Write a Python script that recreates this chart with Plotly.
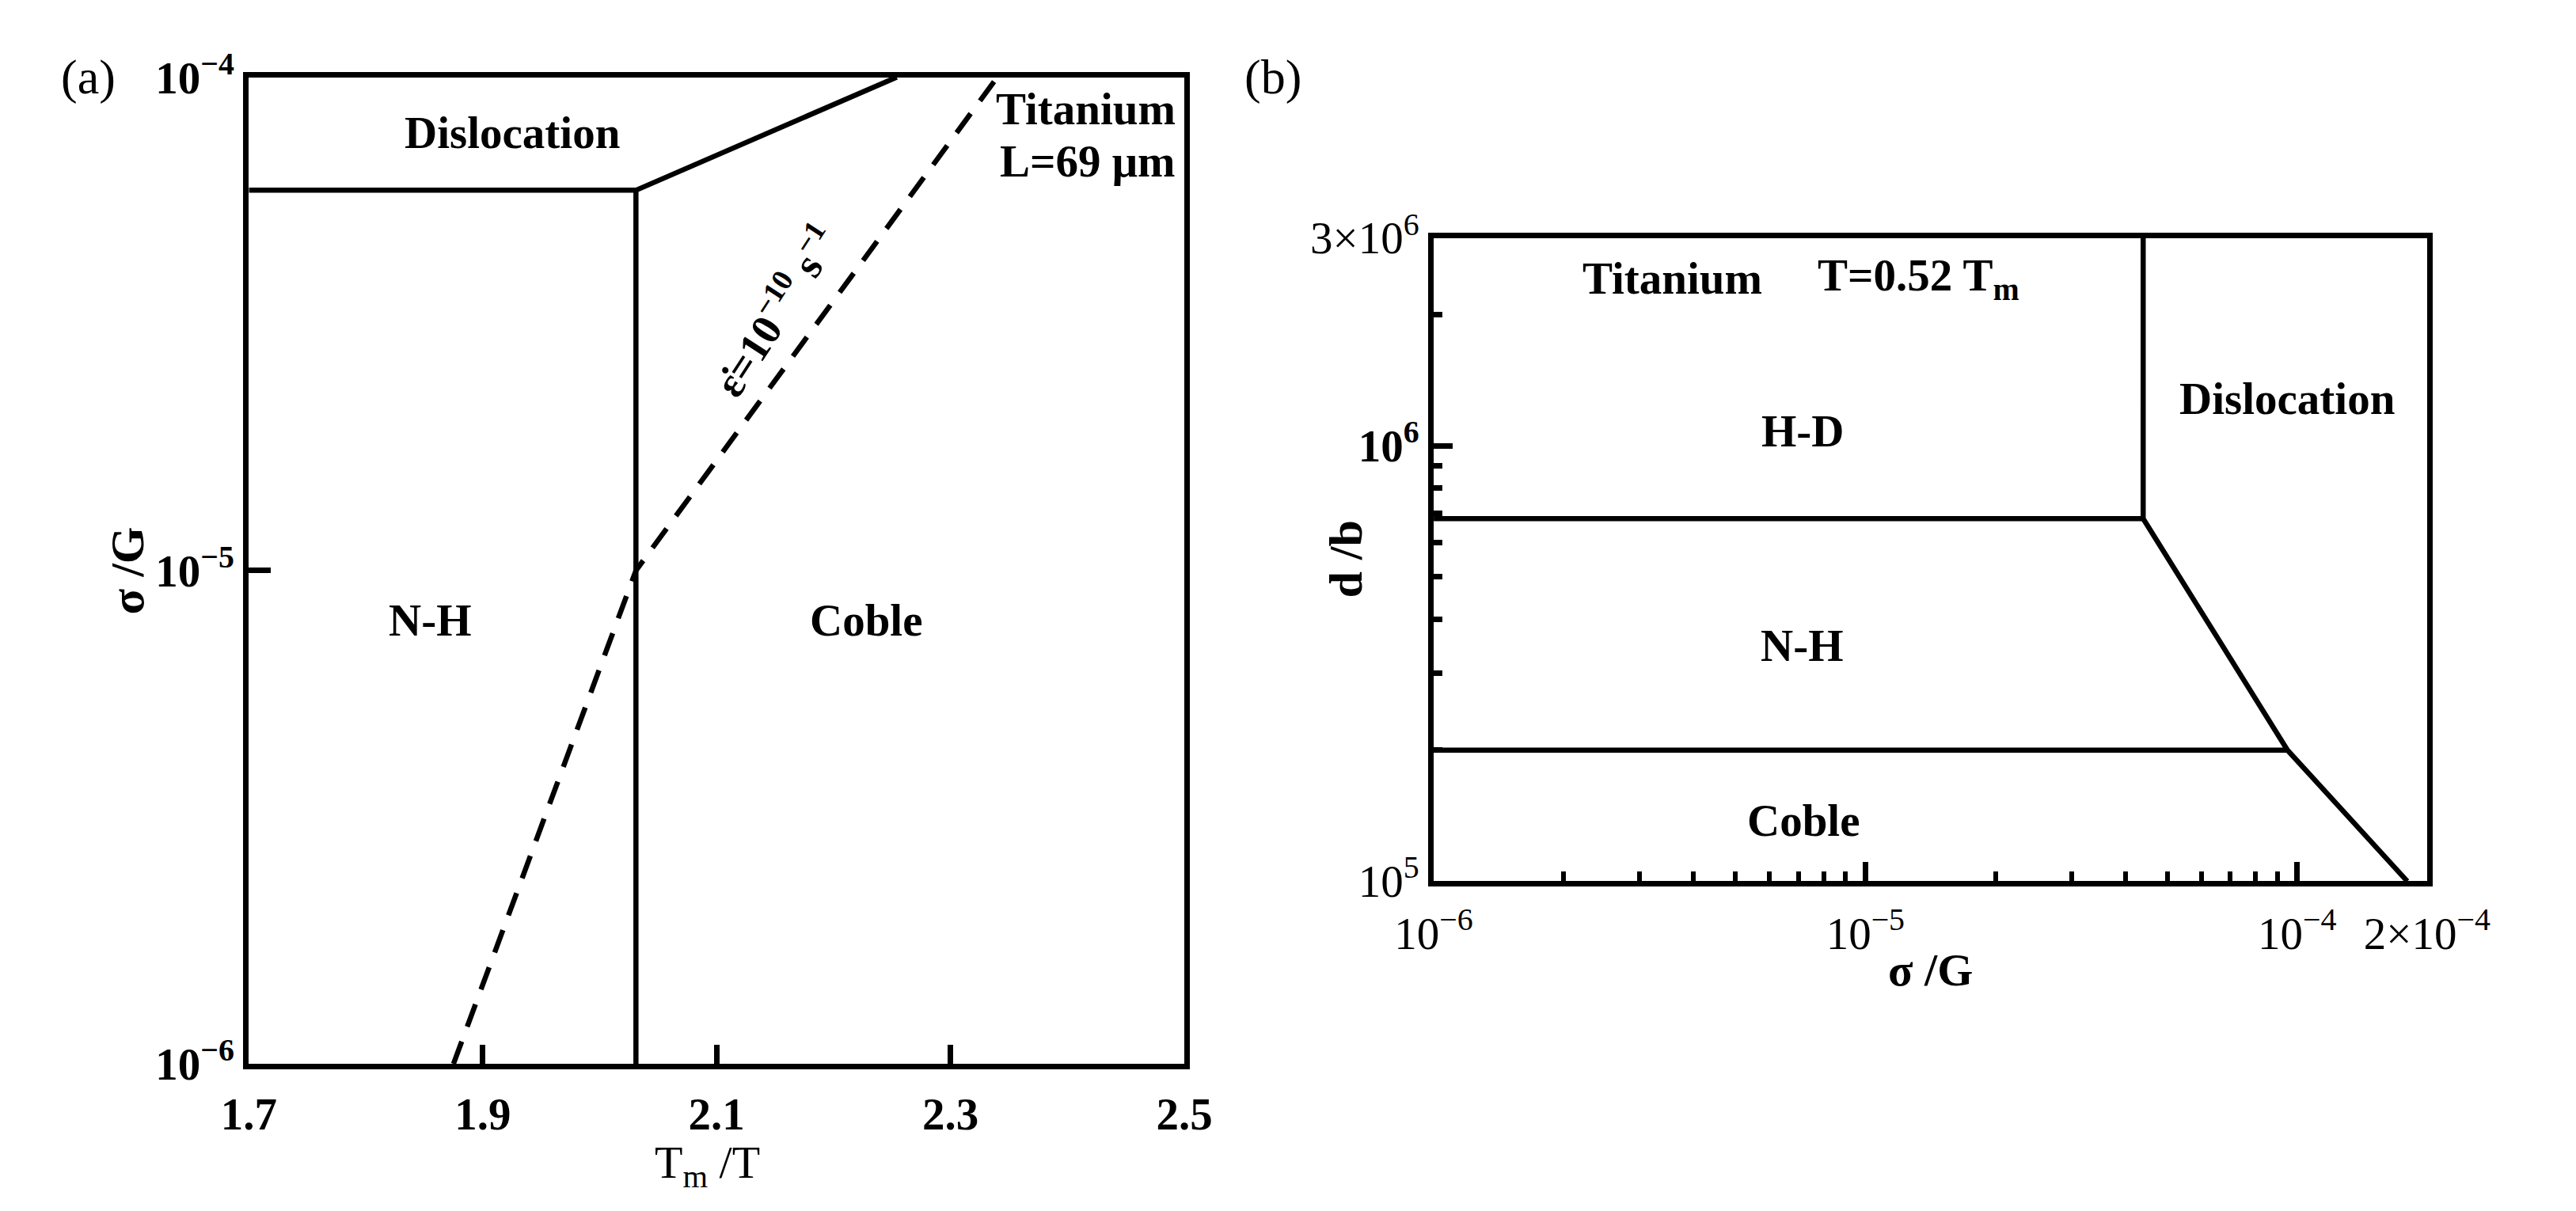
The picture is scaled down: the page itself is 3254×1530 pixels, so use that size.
import numpy as np
import plotly.graph_objects as go

W, H = 3254, 1530
FONT = "Liberation Serif"

# ---------------- panel (a) data ----------------
a_xticks = [1.7, 1.9, 2.1, 2.3, 2.5]
a_xticktext = ["1.7", "1.9", "2.1", "2.3", "2.5"]
a_yticks = [1e-6, 1e-5, 1e-4]
a_yticktext = ["10<sup>−6</sup>", "10<sup>−5</sup>", "10<sup>−4</sup>"]

a_disl_x = [1.7, 2.031, 2.254]          # dislocation boundary
a_disl_y = [5.9e-5, 5.9e-5, 1e-4]
a_vert_x = [2.031, 2.031]               # N-H / Coble boundary
a_vert_y = [1e-6, 5.9e-5]
a_rate_x = [1.875, 2.031, 2.340]        # strain-rate contour (dashed)
a_rate_y = [1e-6, 1e-5, 1e-4]

# ---------------- panel (b) data ----------------
b_xticks = [1e-6, 1e-5, 1e-4, 2e-4]
b_xticktext = ["10<sup>−6</sup>", "10<sup>−5</sup>", "10<sup>−4</sup>", "2×10<sup>−4</sup>"]
b_yticks = [1e5, 1e6, 3e6]
b_yticktext = ["10<sup>5</sup>", "<b>10<sup>6</sup></b>", "3×10<sup>6</sup>"]
b_xminor = [k * 10.0 ** e for e in (-6, -5) for k in range(2, 10)]
b_yminor = [k * 10.0 ** 5 for k in range(2, 10)] + [2e6]

b_hd_x = [1e-6, 4.4e-5]                 # H-D / N-H boundary
b_hd_y = [6.8e5, 6.8e5]
b_disl_x = [4.4e-5, 4.4e-5, 9.5e-5, 1.8e-4]   # dislocation boundary
b_disl_y = [3e6, 6.8e5, 2.0e5, 1e5]
b_cob_x = [1e-6, 9.5e-5]                # N-H / Coble boundary
b_cob_y = [2.0e5, 2.0e5]

fig = go.Figure()

def line(x, y, xa, ya, dash=None, width=6.5):
    fig.add_trace(go.Scatter(x=x, y=y, mode="lines", xaxis=xa, yaxis=ya,
                             line=dict(color="black", width=width, dash=dash),
                             showlegend=False, hoverinfo="skip"))

line(a_disl_x, a_disl_y, "x", "y")
line(a_vert_x, a_vert_y, "x", "y")
line(a_rate_x, a_rate_y, "x", "y", dash="30px,20px")
line(b_hd_x, b_hd_y, "x2", "y2")
line(b_disl_x, b_disl_y, "x2", "y2")
line(b_cob_x, b_cob_y, "x2", "y2")

axcommon = dict(showline=True, linewidth=7, linecolor="black", mirror=True,
                showgrid=False, zeroline=False, ticks="inside",
                tickcolor="black", tickwidth=7,
                tickfont=dict(family=FONT, size=57, color="black"))

fig.update_layout(
    width=W, height=H, margin=dict(l=0, r=0, t=0, b=0),
    paper_bgcolor="white", plot_bgcolor="white",
    font=dict(family=FONT, color="black", size=57),
    xaxis=dict(domain=[267 / W, 1498 / W], range=[1.7, 2.5], anchor="y",
               tickmode="array", tickvals=a_xticks,
               ticktext=["<b>%s</b>" % t for t in a_xticktext],
               ticklen=24, ticklabelstandoff=8, **axcommon),
    yaxis=dict(domain=[1 - 1360 / H, 1 - 52 / H], type="log", range=[-6, -4],
               anchor="x", tickmode="array", tickvals=a_yticks,
               ticktext=["<b>%s</b>" % t for t in a_yticktext],
               ticklen=28, **axcommon),
    xaxis2=dict(domain=[1826 / W, 3133 / W], type="log",
                range=[-6, np.log10(2e-4)], anchor="y2",
                tickmode="array", tickvals=b_xticks, ticktext=b_xticktext,
                ticklen=24, ticklabelstandoff=10,
                minor=dict(tickmode="array", tickvals=b_xminor, ticks="inside",
                           ticklen=12, tickwidth=6, tickcolor="black"),
                **axcommon),
    yaxis2=dict(domain=[1 - 1118 / H, 1 - 265 / H], type="log",
                range=[5, np.log10(3e6)], anchor="x2",
                tickmode="array", tickvals=b_yticks, ticktext=b_yticktext,
                ticklen=24,
                minor=dict(tickmode="array", tickvals=b_yminor, ticks="inside",
                           ticklen=11, tickwidth=7, tickcolor="black"),
                **axcommon),
)

def ann(text, x, y, xref, yref, size=57, bold=True, angle=0, xanchor="center", yanchor="middle"):
    fig.add_annotation(text=("<b>%s</b>" % text) if bold else text, x=x, y=y,
                       xref=xref, yref=yref, showarrow=False, textangle=angle,
                       xanchor=xanchor, yanchor=yanchor,
                       font=dict(family=FONT, size=size, color="black"))

# panel (a) texts
ann("Dislocation", 1.925, -4.112, "x", "y")
ann("Titanium", 2.494, -4.064, "x", "y", xanchor="right")
ann("L=69 μm", 2.494, -4.170, "x", "y", xanchor="right")
ann("N-H", 1.855, -5.10, "x", "y")
ann("Coble", 2.228, -5.10, "x", "y")
ann("ε̇=10<sup>−10</sup> s<sup>−1</sup>", 2.150, -4.472, "x", "y", size=54, angle=-57)

# panel (b) texts
ann("Titanium", -5.447, 6.384, "x2", "y2")
ann("T=0.52 T<sub>m</sub>", -5.114, 6.384, "x2", "y2", xanchor="left")
ann("H-D", -5.146, 6.034, "x2", "y2")
ann("Dislocation", -4.023, 6.108, "x2", "y2")
ann("N-H", -5.147, 5.542, "x2", "y2")
ann("Coble", -5.142, 5.140, "x2", "y2")

# axis titles
ann("σ /G", -0.130, 0.5, "x domain", "y domain", size=60, angle=-90)
ann("T<sub>m</sub> /T", 0.49, -0.072, "x domain", "y domain", size=58, bold=False, yanchor="top")
ann("d /b", -0.0888, 0.5, "x2 domain", "y2 domain", size=60, angle=-90)
ann("σ /G", 0.5, -0.138, "x2 domain", "y2 domain", size=58)

# panel labels
ann("(a)", 56 / W, 1 - 52 / H, "paper", "paper", size=62, bold=False)
ann("(b)", 1614 / W, 1 - 52 / H, "paper", "paper", size=62, bold=False)

fig.write_html("out.html")
